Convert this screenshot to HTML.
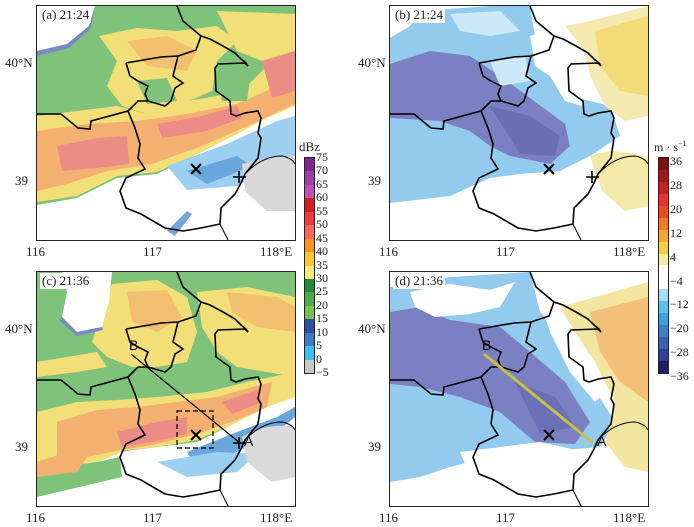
<!DOCTYPE html>
<html><head><meta charset="utf-8"><style>
body{margin:0;width:694px;height:527px;background:#fff;position:relative;overflow:hidden;font-family:"Liberation Serif",serif;}
svg.p{position:absolute;width:258px;height:234px;border:1px solid #222;overflow:hidden;}
.t{position:absolute;font-size:13px;color:#222;white-space:nowrap;}
.bar{position:absolute;width:9px;border:1px solid #222;}
.bar div{height:13.44px;}
.vb div{height:11.94px;}
.lab{position:absolute;font-size:12px;color:#222;}
</style></head><body>

<!-- Panel a -->
<svg class="p" style="left:36px;top:5px" viewBox="0 0 258 234">
<rect width="258" height="234" fill="#fff"/>
<path d="M0,0 H258 V100 L230,110 L200,128 L160,148 L120,168 L80,172 L40,192 L0,199 Z" fill="#7fc27a"/>
<path d="M62,30 L100,22 L140,25 L180,20 L200,35 L180,55 L175,85 L140,100 L110,108 L85,100 L70,80 L80,55 Z" fill="#f3df78"/>
<path d="M180,5 L258,8 V45 L225,55 L200,45 Z" fill="#f3df78"/>
<path d="M90,35 L130,30 L160,45 L150,65 L110,60 Z" fill="#f2c070"/>
<path d="M0,110 L40,105 L80,100 L110,108 L150,95 L180,90 L210,80 L230,60 L258,55 V100 L230,112 L200,128 L160,148 L120,166 L80,170 L40,190 L0,196 Z" fill="#f3df78"/>
<path d="M0,125 L50,118 L100,115 L150,108 L200,98 L258,72 V98 L215,118 L165,140 L115,158 L70,165 L30,178 L0,185 Z" fill="#f4b070"/>
<path d="M20,140 L60,132 L90,130 L92,158 L60,162 L25,165 Z" fill="#ec8c86"/>
<path d="M120,118 L165,110 L200,100 L205,112 L170,125 L125,132 Z" fill="#ec8c86"/>
<path d="M225,55 L258,45 V85 L235,92 Z" fill="#ec8c86"/>
<path d="M100,75 L130,72 L140,95 L110,98 Z" fill="#7fc27a"/>
<path d="M180,60 L215,58 L210,95 L185,95 Z" fill="#7fc27a"/>
<path d="M0,0 H58 L52,20 L30,38 L0,45 Z" fill="#fff"/>
<path d="M58,0 L54,22 L32,42 L0,50 V45 L30,38 L52,20 Z" fill="#7a88c8"/>
<path d="M130,160 L190,138 L240,115 L258,110 V150 L232,162 L200,180 L150,184 Z" fill="#9ccff0"/>
<path d="M150,165 L200,150 L215,160 L170,178 Z" fill="#6aa6dc"/>
<path d="M205,158 L240,150 L258,150 V205 L230,205 L208,185 Z" fill="#d8d8d8"/>
<path d="M130,225 L150,205 L155,208 L138,230 Z" fill="#7aa4dc"/>
<path d="M0,108 L24,108 L41,122 L53,123 L54,115 L91,105 L98,122 L103,138 L101,152 L108,163 L89,172 L83,185 L89,202 L104,208 L128,222 L146,225 L164,222 L183,218 L184,202 L198,188 L204,177 L208,168 L221,152 L224,132 L221,127 L224,112 L221,105 L208,107 L199,110 L194,108 L193,95 L179,85 L178,62 L181,58 L208,57 L211,60 L209,57 L204,53 L198,47 L186,40 L173,33 L164,30 L146,15 L140,0 M89,57 L93,70 L101,75 L111,80 L108,88 L111,95 L128,100 L134,95 L138,82 L146,77 L136,70 L141,50 L159,44 L164,30 M89,57 L124,51 L141,50 M91,105 L101,95 L111,95" fill="none" stroke="#000" stroke-width="1.6"/>
<path d="M208,168 Q225,150 245,150 Q255,152 258,158 M183,218 L191,234" fill="none" stroke="#000" stroke-width="1"/>
<path d="M154,158 L164,168 M164,158 L154,168" stroke="#000" stroke-width="2"/>
<path d="M196,171 H209 M202,165 V177" stroke="#000" stroke-width="1.6"/>
</svg>
<div class="t" style="left:40px;top:7px;background:#fff;padding:0 2px">(a) 21:24</div>

<!-- Panel b -->
<svg class="p" style="left:389px;top:5px" viewBox="0 0 258 234">
<rect width="258" height="234" fill="#fff"/>
<path d="M0,30 L30,5 L100,0 L140,0 L145,30 L170,50 L180,90 L220,100 L230,130 L200,150 L170,165 L130,168 L100,172 L60,190 L0,197 Z" fill="#92cbee"/>
<path d="M60,8 L110,5 L130,25 L100,30 L70,25 Z" fill="#cde8f6"/>
<path d="M0,58 L40,45 L80,50 L110,70 L140,92 L175,118 L180,140 L160,158 L120,150 L100,140 L80,125 L50,115 L0,112 Z" fill="#7b80c3"/>
<path d="M100,100 L140,110 L170,130 L165,150 L130,148 Z" fill="#6a6fb4"/>
<path d="M0,0 H35 L20,20 L0,32 Z" fill="#fff"/>
<path d="M140,30 L160,25 L175,35 L195,60 L192,100 L175,95 L160,70 L145,60 Z" fill="#fff"/>
<path d="M100,55 L135,50 L140,75 L110,80 Z" fill="#cde8f6"/>
<path d="M175,20 L200,15 L258,0 V110 L235,115 L215,100 L200,70 L195,45 Z" fill="#f5eab0"/>
<path d="M205,25 L258,10 V90 L230,85 L210,60 Z" fill="#f2dc78"/>
<path d="M200,150 Q225,140 258,152 V200 L235,205 L212,185 Z" fill="#f3e9a8"/>
<path d="M0,108 L24,108 L41,122 L53,123 L54,115 L91,105 L98,122 L103,138 L101,152 L108,163 L89,172 L83,185 L89,202 L104,208 L128,222 L146,225 L164,222 L183,218 L184,202 L198,188 L204,177 L208,168 L221,152 L224,132 L221,127 L224,112 L221,105 L208,107 L199,110 L194,108 L193,95 L179,85 L178,62 L181,58 L208,57 L211,60 L209,57 L204,53 L198,47 L186,40 L173,33 L164,30 L146,15 L140,0 M89,57 L93,70 L101,75 L111,80 L108,88 L111,95 L128,100 L134,95 L138,82 L146,77 L136,70 L141,50 L159,44 L164,30 M89,57 L124,51 L141,50 M91,105 L101,95 L111,95" fill="none" stroke="#000" stroke-width="1.6"/>
<path d="M208,168 Q225,150 245,150 Q255,152 258,158 M183,218 L191,234" fill="none" stroke="#000" stroke-width="1"/>
<path d="M154,158 L164,168 M164,158 L154,168" stroke="#000" stroke-width="2"/>
<path d="M196,171 H209 M202,165 V177" stroke="#000" stroke-width="1.6"/>
</svg>
<div class="t" style="left:393px;top:7px;background:#fff;padding:0 2px">(b) 21:24</div>

<!-- Panel c -->
<svg class="p" style="left:36px;top:271px" viewBox="0 0 258 234">
<rect width="258" height="234" fill="#fff"/>
<path d="M0,0 H258 V120 L230,135 L200,150 L160,170 L120,175 L95,178 L85,180 L60,190 L0,200 Z" fill="#7fc27a"/>
<path d="M0,200 L60,190 L83,185 L85,205 L0,225 Z" fill="#7fc27a"/>
<path d="M75,12 L120,8 L150,25 L160,60 L150,90 L120,95 L95,95 L70,85 L55,70 L65,40 Z" fill="#f3df78"/>
<path d="M90,20 L130,18 L145,45 L120,60 L95,50 Z" fill="#f2c070"/>
<path d="M160,20 L210,15 L258,25 V105 L230,100 L200,95 L180,80 L165,55 Z" fill="#f3df78"/>
<path d="M190,20 L240,25 L258,35 V60 L220,55 L195,40 Z" fill="#f2c070"/>
<path d="M0,90 L30,85 L60,80 L70,95 L40,100 L0,105 Z" fill="#f3df78"/>
<path d="M0,140 L40,130 L80,128 L120,125 L170,120 L210,110 L258,100 V125 L230,135 L200,150 L160,168 L120,175 L90,178 L60,190 L0,198 Z" fill="#f3df78"/>
<path d="M20,150 L60,138 L100,135 L140,130 L180,125 L215,115 L235,110 L230,135 L200,148 L160,162 L120,172 L85,178 L50,185 L20,190 Z" fill="#f4b070"/>
<path d="M80,160 L120,150 L150,145 L150,162 L115,170 L85,175 Z" fill="#ec8c86"/>
<path d="M185,130 L220,118 L225,130 L195,142 Z" fill="#ec8c86"/>
<path d="M0,190 L30,180 L50,185 L40,200 L0,205 Z" fill="#f4b070"/>
<path d="M25,0 H75 L72,30 L65,55 L40,60 L25,45 L30,20 Z" fill="#fff"/>
<path d="M25,45 L40,60 L65,55 L66,58 L40,64 L22,48 Z" fill="#7a88c8"/>
<path d="M150,180 L200,160 L240,145 L258,135 V145 L240,160 L200,180 L160,195 Z" fill="#6aa6dc"/>
<path d="M120,190 L180,180 L220,182 L200,200 L150,205 Z" fill="#9ccff0"/>
<path d="M205,165 Q230,150 258,155 V205 L235,210 L210,190 Z" fill="#dadada"/>
<path d="M0,108 L24,108 L41,122 L53,123 L54,115 L91,105 L98,122 L103,138 L101,152 L108,163 L89,172 L83,185 L89,202 L104,208 L128,222 L146,225 L164,222 L183,218 L184,202 L198,188 L204,177 L208,168 L221,152 L224,132 L221,127 L224,112 L221,105 L208,107 L199,110 L194,108 L193,95 L179,85 L178,62 L181,58 L208,57 L211,60 L209,57 L204,53 L198,47 L186,40 L173,33 L164,30 L146,15 L140,0 M89,57 L93,70 L101,75 L111,80 L108,88 L111,95 L128,100 L134,95 L138,82 L146,77 L136,70 L141,50 L159,44 L164,30 M89,57 L124,51 L141,50 M91,105 L101,95 L111,95" fill="none" stroke="#000" stroke-width="1.6"/>
<path d="M208,168 Q225,150 245,150 Q255,152 258,158 M183,218 L191,234" fill="none" stroke="#000" stroke-width="1"/>
<path d="M94,82 L203,171" stroke="#000" stroke-width="1.2"/>
<rect x="140" y="139" width="36" height="37" fill="none" stroke="#000" stroke-width="1.2" stroke-dasharray="5,3"/>
<path d="M154,158 L164,168 M164,158 L154,168" stroke="#000" stroke-width="2"/>
<path d="M196,171 H209 M202,165 V177" stroke="#000" stroke-width="1.6"/>
<text x="92" y="78" font-family="Liberation Sans, sans-serif" font-size="14" fill="#000">B</text>
<text x="207" y="174" font-family="Liberation Sans, sans-serif" font-size="14" fill="#000">A</text>
</svg>
<div class="t" style="left:40px;top:273px;background:#fff;padding:0 2px">(c) 21:36</div>

<!-- Panel d -->
<svg class="p" style="left:389px;top:271px" viewBox="0 0 258 234">
<rect width="258" height="234" fill="#fff"/>
<path d="M0,15 L60,5 L140,0 L150,40 L185,80 L200,110 L225,150 L210,175 L150,180 L100,185 L60,195 L30,205 L0,210 Z" fill="#92cbee"/>
<path d="M0,40 L30,35 L60,48 L110,55 L140,80 L175,110 L200,150 L185,172 L145,170 L110,140 L70,125 L30,115 L0,112 Z" fill="#7b80c3"/>
<path d="M125,110 L165,125 L185,155 L150,162 Z" fill="#6a6fb6"/>
<path d="M20,20 L60,12 L100,18 L125,10 L110,35 L80,42 L45,45 L25,35 Z" fill="#fff"/>
<path d="M140,0 H165 L175,40 L190,70 L200,100 L215,120 L205,130 L180,100 L160,60 Z" fill="#fff"/>
<path d="M170,35 L258,10 V200 L235,195 L215,170 L225,130 L205,90 L185,60 Z" fill="#f3e6a0"/>
<path d="M200,40 L258,25 V130 L230,110 L210,80 Z" fill="#f2c078"/>
<path d="M70,180 L150,170 L195,180 L200,205 L170,225 L140,218 L100,200 L75,192 Z" fill="#fff"/>
<path d="M0,108 L24,108 L41,122 L53,123 L54,115 L91,105 L98,122 L103,138 L101,152 L108,163 L89,172 L83,185 L89,202 L104,208 L128,222 L146,225 L164,222 L183,218 L184,202 L198,188 L204,177 L208,168 L221,152 L224,132 L221,127 L224,112 L221,105 L208,107 L199,110 L194,108 L193,95 L179,85 L178,62 L181,58 L208,57 L211,60 L209,57 L204,53 L198,47 L186,40 L173,33 L164,30 L146,15 L140,0 M89,57 L93,70 L101,75 L111,80 L108,88 L111,95 L128,100 L134,95 L138,82 L146,77 L136,70 L141,50 L159,44 L164,30 M89,57 L124,51 L141,50 M91,105 L101,95 L111,95" fill="none" stroke="#000" stroke-width="1.6"/>
<path d="M208,168 Q225,150 245,150 Q255,152 258,158 M183,218 L191,234" fill="none" stroke="#000" stroke-width="1"/>
<path d="M94,82 L203,171" stroke="#c8c040" stroke-width="3"/>
<path d="M154,158 L164,168 M164,158 L154,168" stroke="#000" stroke-width="2"/>
<text x="92" y="78" font-family="Liberation Sans, sans-serif" font-size="14" fill="#000">B</text>
<text x="207" y="174" font-family="Liberation Sans, sans-serif" font-size="14" fill="#000">A</text>
</svg>
<div class="t" style="left:393px;top:273px;background:#fff;padding:0 2px">(d) 21:36</div>

<!-- axis labels -->
<div class="t" style="left:5px;top:55px">40°N</div>
<div class="t" style="left:15px;top:173px">39</div>
<div class="t" style="left:358px;top:55px">40°N</div>
<div class="t" style="left:368px;top:173px">39</div>
<div class="t" style="left:5px;top:321px">40°N</div>
<div class="t" style="left:15px;top:439px">39</div>
<div class="t" style="left:358px;top:321px">40°N</div>
<div class="t" style="left:368px;top:439px">39</div>
<div class="t" style="left:26px;top:244px">116</div><div class="t" style="left:143px;top:244px">117</div><div class="t" style="left:260px;top:244px">118°E</div>
<div class="t" style="left:379px;top:244px">116</div><div class="t" style="left:496px;top:244px">117</div><div class="t" style="left:613px;top:244px">118°E</div>
<div class="t" style="left:26px;top:510px">116</div><div class="t" style="left:143px;top:510px">117</div><div class="t" style="left:260px;top:510px">118°E</div>
<div class="t" style="left:379px;top:510px">116</div><div class="t" style="left:496px;top:510px">117</div><div class="t" style="left:613px;top:510px">118°E</div>

<!-- dBz bar -->
<div class="t" style="left:299px;top:139px">dBz</div>
<div class="bar" style="left:304px;top:157px">
<div style="background:#7a2a88"></div><div style="background:#9c3ea2"></div><div style="background:#bc52b4"></div><div style="background:#cc1f26"></div><div style="background:#ee3a3a"></div><div style="background:#f06a60"></div><div style="background:#f2961e"></div><div style="background:#f5c830"></div><div style="background:#f2ec7a"></div><div style="background:#1f8a3a"></div><div style="background:#4aab4a"></div><div style="background:#7ac05a"></div><div style="background:#2f4ea0"></div><div style="background:#3f78c4"></div><div style="background:#3cc0ef"></div><div style="background:#c8c8c8"></div>
</div>
<div class="lab" style="left:316px;top:151px;line-height:13.44px">75<br>70<br>65<br>60<br>55<br>50<br>45<br>40<br>35<br>30<br>25<br>20<br>15<br>10<br>5<br>0<br>−5</div>

<!-- velocity bar -->
<div class="t" style="left:654px;top:139px;font-size:12px">m · s<sup style="font-size:8px">−1</sup></div>
<div class="bar vb" style="left:658px;top:157px">
<div style="background:#7a1010"></div><div style="background:#a01818"></div><div style="background:#c82020"></div><div style="background:#e83030"></div><div style="background:#f04a20"></div><div style="background:#f07a20"></div><div style="background:#f5a830"></div><div style="background:#f0d040"></div><div style="background:#f3eca0"></div><div style="background:#fff"></div><div style="background:#fff"></div><div style="background:#a8dcf0"></div><div style="background:#60c0ea"></div><div style="background:#40a0dc"></div><div style="background:#3a80c8"></div><div style="background:#3a60b0"></div><div style="background:#303f98"></div><div style="background:#1a2060"></div>
</div>
<div class="lab" style="left:670px;top:150px;line-height:23.9px">36<br>28<br>20<br>12<br>4<br>−4<br>−12<br>−20<br>−28<br>−36</div>
</body></html>
